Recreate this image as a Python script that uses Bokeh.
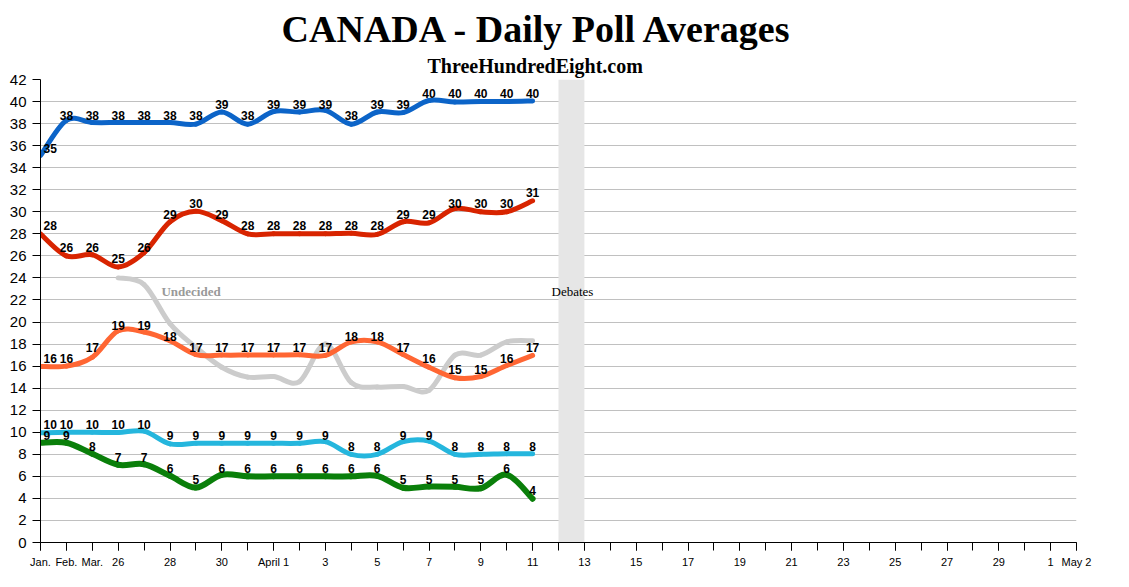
from bokeh.plotting import figure
from bokeh.models import FixedTicker, Label, Range1d, Title
from bokeh.core.properties import value
from bokeh.embed import file_html
from bokeh.resources import INLINE

# ---------------- data ----------------
days = list(range(20))                    # index 0..19 (Jan., Feb., Mar., Mar 26 ... Apr 11)
conservative = [35.1, 38.3, 38.1, 38.1, 38.1, 38.1, 37.95, 39.05, 37.95, 39.1,
                39.05, 39.2, 37.95, 39.05, 39.0, 40.1, 39.95, 40.0, 40.0, 40.05]
liberal = [28.0, 26.0, 26.1, 25.0, 26.3, 29.1, 30.05, 29.2, 28.0, 28.0,
           28.0, 28.0, 28.05, 27.95, 29.1, 29.0, 30.3, 30.0, 30.0, 31.0]
ndp = [15.97, 16.0, 16.8, 19.2, 19.1, 18.3, 17.05, 17.0, 17.0, 17.0,
       17.03, 16.97, 18.2, 18.2, 17.06, 15.9, 14.95, 15.06, 16.06, 16.97]
bloc = [9.95, 10.0, 10.0, 9.98, 10.1, 8.95, 9.0, 9.0, 9.0, 9.0,
        9.0, 9.15, 8.0, 8.0, 9.15, 9.2, 8.0, 8.0, 8.05, 8.05]
green = [9.05, 9.05, 8.05, 7.05, 7.1, 6.05, 4.98, 6.15, 6.0, 6.0,
         6.0, 6.0, 6.0, 6.05, 4.97, 5.08, 5.05, 4.92, 6.15, 3.97]
undecided_days = list(range(3, 20))
undecided = [24.0, 23.4, 19.85, 17.7, 15.9, 15.0, 15.05, 14.6, 18.0, 14.5,
             14.1, 14.15, 13.8, 17.0, 17.0, 18.2, 18.3]

debate_start, debate_end = 20, 21

tick_positions = [0, 1, 2, 3, 5, 7, 9, 11, 13, 15, 17, 19, 21, 23, 25, 27, 29, 31, 33, 35, 37, 39, 40]
tick_labels = ["Jan.", "Feb.", "Mar.", "26", "28", "30", "April 1", "3", "5", "7", "9", "11",
               "13", "15", "17", "19", "21", "23", "25", "27", "29", "1", "May 2"]
y_ticks = list(range(0, 43, 2))

series = [
    (conservative, "#0c64c8", 5),
    (liberal, "#d82400", 5),
    (ndp, "#ff6633", 5),
    (bloc, "#25b6dd", 5),
    (green, "#0a7f0a", 6),
]

# ---------------- figure ----------------
p = figure(width=1129, height=587, x_range=Range1d(0, 40), y_range=Range1d(0, 42),
           output_backend="svg", toolbar_location=None, title="CANADA - Daily Poll Averages",
           min_border_left=40, min_border_right=53, min_border_top=79, min_border_bottom=45)
p.outline_line_color = None
p.background_fill_color = "white"
p.border_fill_color = "white"

p.title.align = "left"
p.title.offset = 241
p.title.standoff = 0
p.title.text_font = "Liberation Serif"
p.title.text_font_style = "bold"
p.title.text_font_size = "38px"
p.title.text_color = "black"

p.add_layout(Title(text="ThreeHundredEight.com", align="left", offset=387, standoff=6,
                   text_font="Liberation Serif", text_font_style="bold", text_font_size="20px",
                   text_color="black"), "above")

p.xgrid.visible = False
p.ygrid.ticker = FixedTicker(ticks=y_ticks)
p.ygrid.grid_line_color = "#c0c0c0"
p.ygrid.grid_line_width = 1

xa = p.xaxis[0]
xa.ticker = FixedTicker(ticks=tick_positions, minor_ticks=list(range(0, 41)))
xa.major_label_overrides = {t: l for t, l in zip(tick_positions, tick_labels)}
xa.major_tick_in = 0
xa.major_tick_out = 8
xa.minor_tick_in = 0
xa.minor_tick_out = 8
xa.minor_tick_line_color = "black"
xa.major_tick_line_color = "black"
xa.axis_line_color = "black"
xa.major_label_text_font = "Liberation Sans"
xa.major_label_text_font_size = "11px"
xa.major_label_text_color = "black"
xa.major_label_standoff = 5

ya = p.yaxis[0]
ya.ticker = FixedTicker(ticks=y_ticks)
ya.major_tick_in = 0
ya.major_tick_out = 8
ya.minor_tick_line_color = None
ya.major_tick_line_color = "black"
ya.axis_line_color = "black"
ya.major_label_text_font = "Liberation Sans"
ya.major_label_text_font_size = "15px"
ya.major_label_text_color = "black"
ya.major_label_standoff = 6

# debates band
p.quad(left=[debate_start], right=[debate_end], bottom=[0], top=[42],
       fill_color="#e6e6e6", line_color=None)


def bezier_parts(xs, ys):
    n = len(xs)
    out = dict(x0=[], y0=[], x1=[], y1=[], cx0=[], cy0=[], cx1=[], cy1=[])
    for i in range(n - 1):
        a = max(i - 1, 0)
        b = min(i + 2, n - 1)
        out["x0"].append(xs[i]); out["y0"].append(ys[i])
        out["x1"].append(xs[i + 1]); out["y1"].append(ys[i + 1])
        out["cx0"].append(xs[i] + (xs[i + 1] - xs[a]) / 6.0)
        out["cy0"].append(ys[i] + (ys[i + 1] - ys[a]) / 6.0)
        out["cx1"].append(xs[i + 1] - (xs[b] - xs[i]) / 6.0)
        out["cy1"].append(ys[i + 1] - (ys[b] - ys[i]) / 6.0)
    return out


# undecided (no labels)
p.bezier(line_color="#cccccc", line_width=5, line_cap="round", **bezier_parts(undecided_days, undecided))

for vals, col, lw in series:
    p.bezier(line_color=col, line_width=lw, line_cap="round", **bezier_parts(days, vals))

for vals, col, lw in series:
    labels = [str(int(round(v))) for v in vals]
    ylab = [round(v) for v in vals]
    p.text(x=days[:1], y=ylab[:1], text=labels[:1], text_align="left", text_baseline="alphabetic",
           x_offset=3, y_offset=-8, text_font=value("Liberation Sans"), text_font_style="bold",
           text_font_size="12px", text_color="black")
    p.text(x=days[1:], y=ylab[1:], text=labels[1:], text_align="center", text_baseline="alphabetic",
           y_offset=-8, text_font=value("Liberation Sans"), text_font_style="bold",
           text_font_size="12px", text_color="black")

p.add_layout(Label(x=4.67, y=22.75, text="Undecided", text_font="Liberation Serif",
                   text_font_style="bold", text_font_size="13px", text_color="#999999",
                   text_baseline="alphabetic"))
p.add_layout(Label(x=19.73, y=22.75, text="Debates", text_font="Liberation Serif",
                   text_font_size="13px", text_color="black", text_baseline="alphabetic"))

open("out.html", "w").write(file_html(p, INLINE))
